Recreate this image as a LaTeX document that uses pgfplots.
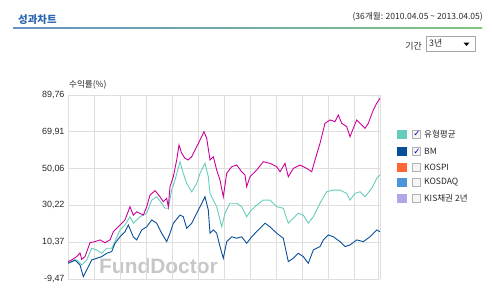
\documentclass[border=0pt]{standalone}
\usepackage{pgfplots}
\pgfplotsset{compat=1.18}
\usepackage{fontspec}
\setmainfont{Liberation Sans}
\newfontfamily\kr{Noto Sans CJK KR}
\newfontfamily\djv{DejaVu Sans}
\definecolor{fundc}{RGB}{204,0,153}
\definecolor{tealc}{RGB}{102,204,187}
\definecolor{bmc}{RGB}{8,78,152}
\definecolor{kospic}{RGB}{255,102,51}
\definecolor{kosdaqc}{RGB}{77,148,217}
\definecolor{kisc}{RGB}{179,166,230}
\definecolor{hdrblue}{RGB}{40,100,175}
\definecolor{gridc}{RGB}{222,222,222}
\definecolor{txtc}{RGB}{40,40,40}
\begin{document}
\begin{tikzpicture}[x=1bp,y=1bp]
\path[use as bounding box] (0,0) rectangle (493,-291);
% header
\node[anchor=west,inner sep=0pt,text=hdrblue,font=\kr\bfseries\fontsize{10.5}{10.5}\selectfont] at (18,-20) {성과차트};
\shade[left color=hdrblue!70, right color=green!55!black!50] (13,-27) rectangle (482,-28.6);
\node[anchor=east,inner sep=0pt,text=txtc,font=\kr\fontsize{8.6}{8.6}\selectfont] at (483,-17) {(36개월: 2010.04.05 \textasciitilde\ 2013.04.05)};
\node[anchor=east,inner sep=0pt,text=txtc,font=\kr\fontsize{9}{9}\selectfont] at (422,-46) {기간};
\draw[gray!70,fill=white] (426.5,-36.5) rectangle (475,-51.5);
\node[anchor=west,inner sep=0pt,text=txtc,font=\kr\fontsize{9}{9}\selectfont] at (429,-43.5) {3년};
\fill[black] (463.5,-42.5) -- (469.5,-42.5) -- (466.5,-46) -- cycle;
% y label
\node[anchor=west,inner sep=0pt,text=txtc,font=\kr\fontsize{8.6}{8.6}\selectfont] at (69,-85) {수익률(\%)};
% watermark
\node[anchor=base west,inner sep=0pt,text=black!22,font=\bfseries\fontsize{21}{21}\selectfont] at (99,-273.5) {FundDoctor};
\begin{axis}[
  at={(68bp,-279bp)}, anchor=south west,
  width=312bp, height=184bp, scale only axis,
  xmin=0, xmax=312, ymin=-9.47, ymax=89.76,
  xtick={0,26,...,312}, xticklabels={},
  ytick={-9.47,10.37,30.22,50.06,69.91,89.76},
  yticklabels={{-9,47},{10,37},{30,22},{50,06},{69,91},{89,76}},
  yticklabel style={font=\fontsize{9}{9}\selectfont, text=txtc},
  major tick length=0pt,
  grid=major, grid style={gridc, line width=0.9pt},
  axis line style={gridc, line width=0.9pt},
  axis x line*=bottom, axis y line*=left,
  clip=false,
]
\draw[gridc, line width=0.9pt] (axis cs:310.5,-9.47) -- (axis cs:310.5,89.76);
\addplot[tealc, line width=0.9pt] coordinates {
(0,-1.0)(8.7,0.8)(13.7,-1.9)(18.7,0.8)(23.7,7.1)(28.7,6.2)(33.7,4.4)(38.7,7.1)(43.7,7.1)(47,10.7)
(52,17.0)(57,19.7)(62,24.1)(65.3,20.6)(72,24.1)(78.7,26.0)(83.7,33.1)(88.7,34.9)(93.7,31.4)(97,28.7)
(100.3,28.7)(103.7,38.5)(107,43.9)(112,53.8)(115.3,47.5)(118.7,42.1)(123.7,37.6)(128.7,42.1)(132,47.5)(137,52.9)
(140.3,45.7)(142,36.7)(145.3,33.1)(148.7,29.5)(153.7,18.7)(157,26.0)(162,31.4)(168.7,31.4)(173.7,29.5)(178.7,24.1)
(182,26.8)(188.7,30.4)(195.3,33.1)(202,33.1)(208.7,29.5)(215.3,28.7)(220.3,20.6)(225.3,23.3)(230.3,26.0)(235.3,25.0)
(240.3,20.6)(245.3,24.1)(252,31.4)(258.7,37.6)(265.3,38.5)(272,38.5)(278.7,36.7)(282,33.1)(287,36.7)(292,37.6)
(297,34.9)(303.7,39.4)(308.7,44.8)(312,46.6)};
\addplot[bmc, line width=0.9pt] coordinates {
(0,-1.0)(7,0.8)(12,-1.9)(15.3,-8.2)(18.7,-4.6)(23.7,0.8)(28.7,1.7)(33.7,2.6)(38.7,4.4)(43.7,5.3)
(47,9.8)(52,13.3)(57,16.0)(60.3,19.7)(65.3,13.3)(68.7,11.6)(73.7,17.0)(78.7,18.7)(83.7,22.4)(88.7,20.6)
(93.7,15.2)(98.7,10.7)(102,15.2)(105.3,20.6)(112,25.0)(115.3,24.1)(118.7,17.9)(123.7,20.6)(128.7,26.0)(132,29.5)
(137,34.9)(140.3,27.7)(142,15.2)(145.3,17.0)(148.7,15.2)(152,8.0)(155.3,1.7)(158.7,10.7)(163.7,13.3)(168.7,12.5)
(173.7,13.3)(178.7,9.8)(183.7,13.3)(190.3,17.0)(197,20.6)(202,18.7)(208.7,15.2)(215.3,12.5)(220.3,-0.1)(225.3,1.7)
(230.3,4.4)(235.3,2.6)(240.3,-1.0)(245.3,6.2)(252,8.0)(255.3,11.6)(260.3,14.3)(265.3,13.3)(272,10.7)(277,8.0)
(282,8.9)(288.7,11.6)(295.3,10.7)(302,13.3)(308.7,17.0)(312,16.0)};
\addplot[fundc, line width=0.9pt] coordinates {
(0,-0.1)(3.7,0.8)(8.7,2.6)(12,4.6)(13.7,1.2)(17,2.6)(22,10.1)(27,10.7)(32,11.6)(37,10.1)
(42,11.6)(45.3,16.0)(52,19.7)(57,22.4)(62,29.5)(65.3,25.0)(68.7,26.8)(75.3,25.0)(78.7,29.5)(82,35.8)
(87,38.2)(92,34.9)(95.3,32.2)(98.7,34.0)(100.3,29.5)(102,40.3)(105.3,45.7)(108.7,54.7)(111,62.8)(113.7,58.3)
(117,55.6)(120.3,54.7)(123.7,56.5)(128.7,61.9)(132,65.5)(136,70.0)(138.7,66.4)(142,54.7)(145.3,56.5)(148.7,49.3)
(152,43.9)(155.3,34.9)(158.7,47.5)(163.7,51.1)(168.7,52.0)(173.7,48.4)(177,46.6)(178.7,40.3)(182,45.7)(188.7,49.3)
(195.3,53.8)(202,52.9)(208.7,51.1)(212,48.4)(217,52.9)(220.3,45.7)(225.3,50.2)(232,52.0)(238.7,50.2)(243.7,48.4)
(247,54.7)(252,63.7)(257,74.5)(262,76.3)(267,75.4)(270.3,79.0)(273.7,74.5)(278.7,72.7)(282,67.3)(285.3,71.8)
(288.7,76.3)(293.7,73.6)(297,71.8)(300.3,74.5)(305.3,81.7)(308.7,85.3)(312,88.0)};
\end{axis}
% legend
\foreach \c/\yy/\lab/\chk in {tealc/134/{유형평균}/1, bmc/151.5/{BM}/1, kospic/167.5/{KOSPI}/0, kosdaqc/182/{KOSDAQ}/0, kisc/198.5/{KIS채권 2년}/0}{
  \fill[\c] (397,-\yy+4.5) rectangle (406.5,-\yy-4.5);
  \draw[gray!60, fill=gray!8] (412.5,-\yy+4) rectangle (420.5,-\yy-4);
  \ifnum\chk=1
    \node[inner sep=0pt,text=blue!75!black,font=\djv\fontsize{8.5}{8.5}\selectfont] at (417,-\yy) {✓};
  \fi
  \node[anchor=west,inner sep=0pt,text=txtc,font=\kr\fontsize{8.6}{8.6}\selectfont] at (424,-\yy) {\lab};
}
\end{tikzpicture}
\end{document}
